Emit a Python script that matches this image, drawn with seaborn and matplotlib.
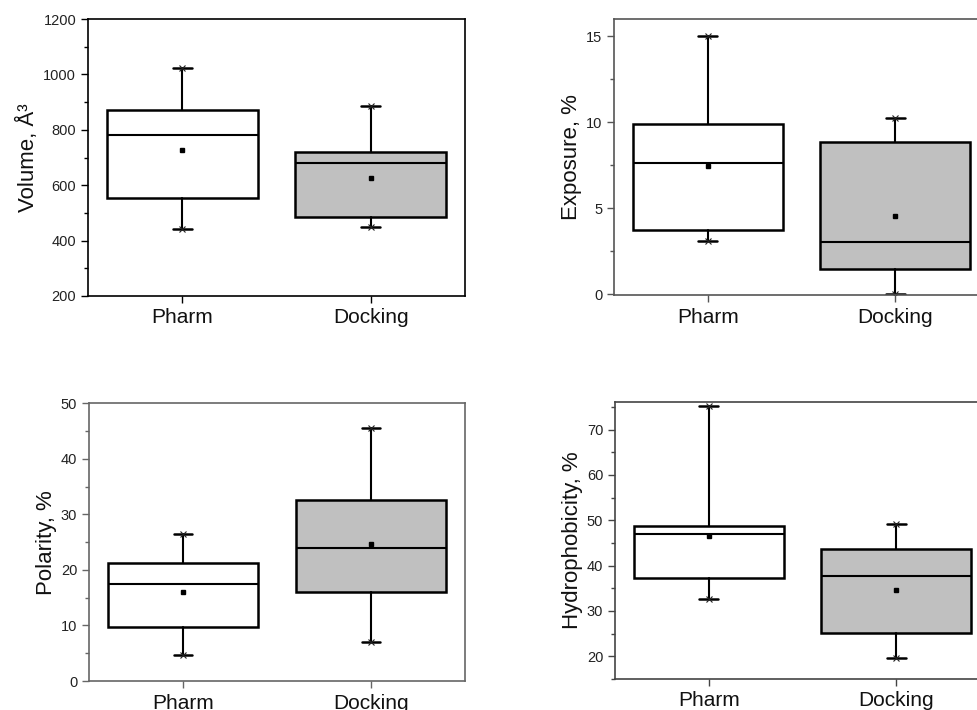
import matplotlib
matplotlib.use("Agg")
import matplotlib.pyplot as plt
import seaborn as sns
from matplotlib.ticker import MultipleLocator

# ---------------- data ----------------
groups = ["Pharm", "Docking"]

volume_min = [441, 448]
volume_q1 = [554, 485]
volume_med = [782, 681]
volume_q3 = [871, 721]
volume_max = [1022, 887]
volume_mean = [727, 626]

exposure_min = [3.07, 0.0]
exposure_q1 = [3.71, 1.45]
exposure_med = [7.6, 3.05]
exposure_q3 = [9.88, 8.87]
exposure_max = [15.0, 10.27]
exposure_mean = [7.46, 4.56]

polarity_min = [4.6, 7.0]
polarity_q1 = [9.8, 16.0]
polarity_med = [17.5, 23.9]
polarity_q3 = [21.2, 32.6]
polarity_max = [26.5, 45.6]
polarity_mean = [16.0, 24.7]

hydro_min = [32.6, 19.6]
hydro_q1 = [37.3, 25.2]
hydro_med = [47.0, 37.7]
hydro_q3 = [48.8, 43.7]
hydro_max = [75.1, 49.1]
hydro_mean = [46.6, 34.7]

# ---------------- style ----------------
sns.set_theme(style="ticks")
plt.rcParams["font.family"] = ["Liberation Sans", "DejaVu Sans"]

fig = plt.figure(figsize=(9.77, 7.10), dpi=100)
fig.patch.set_facecolor("white")

box_colors = ["white", "#c0c0c0"]

panels = [
    dict(rect=[0.0901, 0.5831, 0.3859, 0.3901], label="Volume, Å³",
         stats=(volume_min, volume_q1, volume_med, volume_q3, volume_max, volume_mean),
         ylim=(200, 1200), major=200, minor=100, spine="black"),
    dict(rect=[0.6285, 0.5845, 0.3838, 0.3887], label="Exposure, %",
         stats=(exposure_min, exposure_q1, exposure_med, exposure_q3, exposure_max, exposure_mean),
         ylim=(-0.05, 16), major=5, minor=2.5, spine="#555555"),
    dict(rect=[0.0911, 0.0408, 0.3849, 0.3911], label="Polarity, %",
         stats=(polarity_min, polarity_q1, polarity_med, polarity_q3, polarity_max, polarity_mean),
         ylim=(0, 50), major=10, minor=5, spine="#666666"),
    dict(rect=[0.6295, 0.0437, 0.3838, 0.3897], label="Hydrophobicity, %",
         stats=(hydro_min, hydro_q1, hydro_med, hydro_q3, hydro_max, hydro_mean),
         ylim=(15, 76), major=10, minor=5, spine="#444444"),
]

for p in panels:
    ax = fig.add_axes(p["rect"])
    mins, q1s, meds, q3s, maxs, means = p["stats"]
    bxp_stats = []
    for i, g in enumerate(groups):
        bxp_stats.append(dict(label=g, whislo=mins[i], q1=q1s[i], med=meds[i],
                              q3=q3s[i], whishi=maxs[i], mean=means[i],
                              fliers=[mins[i], maxs[i]]))
    art = ax.bxp(bxp_stats, positions=[0, 1], widths=0.8, capwidths=0.1,
                 showmeans=True, showfliers=True, patch_artist=True,
                 boxprops=dict(linewidth=1.8, edgecolor="black"),
                 medianprops=dict(color="black", linewidth=1.5),
                 whiskerprops=dict(color="black", linewidth=1.5),
                 capprops=dict(color="black", linewidth=1.8),
                 meanprops=dict(marker="s", markersize=3.5, markerfacecolor="black",
                                markeredgecolor="black"),
                 flierprops=dict(marker="x", markersize=5, markeredgecolor="#222222",
                                 markeredgewidth=0.8))
    for patch, c in zip(art["boxes"], box_colors):
        patch.set_facecolor(c)

    ax.set_xlim(-0.5, 1.5)
    ax.set_ylim(*p["ylim"])
    ax.yaxis.set_major_locator(MultipleLocator(p["major"]))
    ax.yaxis.set_minor_locator(MultipleLocator(p["minor"]))
    ax.set_xticks([0, 1])
    ax.set_xticklabels(groups, fontsize=15)
    ax.tick_params(axis="y", which="major", labelsize=10.5, length=5, width=1,
                   color=p["spine"], labelcolor="#222222", direction="out")
    ax.tick_params(axis="y", which="minor", length=3, width=1, color=p["spine"])
    ax.tick_params(axis="x", which="major", length=5, width=1, color=p["spine"],
                   labelcolor="#111111", pad=4)
    ax.set_ylabel(p["label"], fontsize=16, color="#111111", labelpad=3)
    ax.set_facecolor("white")
    for s in ax.spines.values():
        s.set_visible(True)
        s.set_color(p["spine"])
        s.set_linewidth(1.2)

fig.savefig("out.png", dpi=100, facecolor="white")
